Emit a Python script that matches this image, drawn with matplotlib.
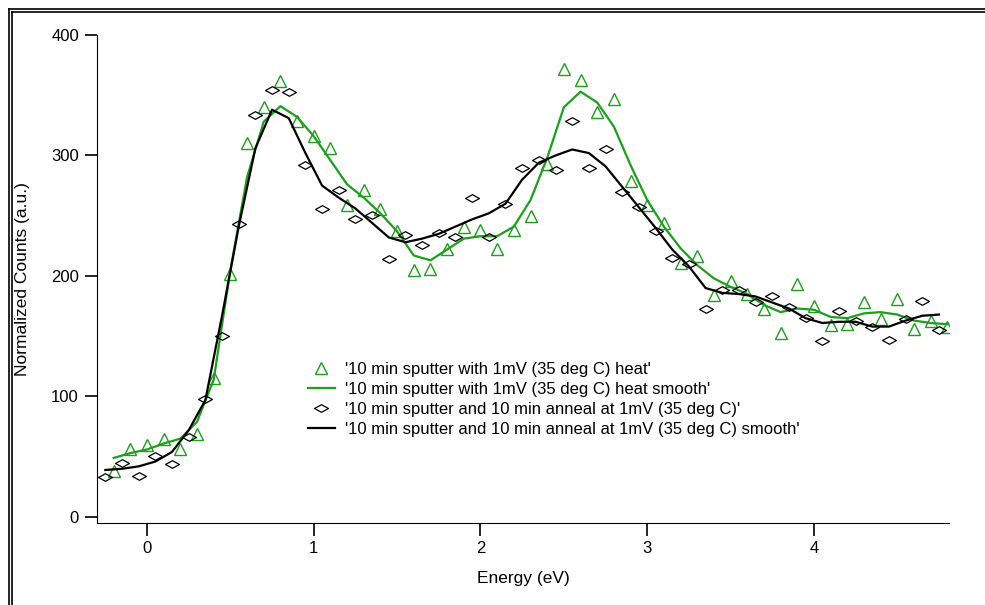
import numpy as np
import matplotlib.pyplot as plt
from matplotlib.lines import Line2D

plt.rcParams['font.family'] = ['Liberation Sans', 'DejaVu Sans']

# donnees
E_heat = [-0.2, -0.1, 0.0, 0.1, 0.2, 0.3, 0.4, 0.5, 0.6, 0.7, 0.8, 0.9, 1.0, 1.1, 1.2,
          1.3, 1.4, 1.5, 1.6, 1.7, 1.8, 1.9, 2.0, 2.1, 2.2, 2.3, 2.4, 2.5, 2.6, 2.7,
          2.8, 2.9, 3.0, 3.1, 3.2, 3.3, 3.4, 3.5, 3.6, 3.7, 3.8, 3.9, 4.0, 4.1, 4.2,
          4.3, 4.4, 4.5, 4.6, 4.7, 4.8]
I_heat = [38, 56, 60, 65, 56, 69, 115, 202, 310, 340, 362, 329, 316, 306, 259,
          271, 256, 237, 205, 206, 222, 241, 238, 222, 238, 250, 293, 372, 363, 336,
          347, 279, 259, 244, 211, 217, 184, 196, 185, 173, 153, 193, 175, 159, 160,
          178, 164, 181, 156, 163, 158]
I_heat_smooth = [49, 53, 56, 61, 65, 79, 114, 205, 282, 328, 341, 332, 316, 296, 276,
                 265, 252, 237, 217, 213, 222, 231, 233, 233, 241, 263, 298, 340, 353, 344,
                 324, 292, 263, 241, 223, 209, 198, 191, 185, 176, 170, 173, 172, 166, 165,
                 169, 170, 168, 163, 161, 160]

E_anneal = [-0.25, -0.15, -0.05, 0.05, 0.15, 0.25, 0.35, 0.45, 0.55, 0.65, 0.75, 0.85,
            0.95, 1.05, 1.15, 1.25, 1.35, 1.45, 1.55, 1.65, 1.75, 1.85, 1.95, 2.05,
            2.15, 2.25, 2.35, 2.45, 2.55, 2.65, 2.75, 2.85, 2.95, 3.05, 3.15, 3.25,
            3.35, 3.45, 3.55, 3.65, 3.75, 3.85, 3.95, 4.05, 4.15, 4.25, 4.35, 4.45,
            4.55, 4.65, 4.75]
I_anneal = [33, 45, 34, 51, 44, 66, 98, 150, 243, 334, 354, 353,
            292, 256, 271, 247, 251, 214, 234, 226, 236, 232, 265, 232,
            260, 290, 296, 288, 329, 290, 305, 270, 257, 237, 215, 210,
            173, 188, 188, 178, 183, 174, 165, 146, 171, 163, 158, 147,
            164, 179, 155]
I_anneal_smooth = [39, 40, 42, 46, 54, 72, 97, 167, 241, 306, 338, 331,
                   302, 275, 265, 256, 244, 232, 228, 231, 235, 241, 247, 252,
                   260, 280, 294, 300, 305, 302, 291, 274, 257, 240, 222, 208,
                   190, 186, 185, 183, 178, 173, 165, 161, 162, 162, 158, 158,
                   163, 167, 168]

labels = ["'10 min sputter with 1mV (35 deg C) heat'",
          "'10 min sputter with 1mV (35 deg C) heat smooth'",
          "'10 min sputter and 10 min anneal at 1mV (35 deg C)'",
          "'10 min sputter and 10 min anneal at 1mV (35 deg C) smooth'"]

vert = '#1e9e1e'
# losange aplati
losange = [(-1, 0), (0, 0.55), (1, 0), (0, -0.55), (-1, 0)]

fig = plt.figure(figsize=(9.85, 6.05), dpi=100)
ax = fig.add_axes([97/985, 1 - 523/605, (949 - 97)/985, (523 - 35)/605])

ax.plot(E_heat, I_heat, linestyle='none', marker='^', markersize=9,
        markerfacecolor='none', markeredgecolor=vert, markeredgewidth=1.0, label=labels[0])
ax.plot(E_heat, I_heat_smooth, color=vert, linewidth=1.6, label=labels[1])
ax.plot(E_anneal, I_anneal, linestyle='none', marker=losange, markersize=10,
        markerfacecolor='none', markeredgecolor='black', markeredgewidth=0.9, label=labels[2])
ax.plot(E_anneal, I_anneal_smooth, color='black', linewidth=1.6, label=labels[3])

ax.set_xlim(-0.30, 4.81)
ax.set_ylim(-5, 400)
ax.set_xticks([0, 1, 2, 3, 4])
ax.set_yticks([0, 100, 200, 300, 400])
ax.spines['top'].set_visible(False)
ax.spines['right'].set_visible(False)
ax.spines['left'].set_bounds(-5, 400)
ax.tick_params(direction='out', length=9, width=1.2, labelsize=12, pad=4)
ax.set_xlabel('Energy (eV)', fontsize=12.5, labelpad=11)
ax.set_ylabel('Normalized Counts (a.u.)', fontsize=12.5, labelpad=15)

ax.legend(loc='upper left', bbox_to_anchor=(0.24, 0.343), frameon=False, fontsize=12,
          numpoints=1, handlelength=1.6, handletextpad=0.6, labelspacing=0.3,
          borderaxespad=0)

# double cadre (gauche et haut)
for p in (8.5, 11.5):
    fig.add_artist(Line2D([p/985, p/985], [0, 1 - p/605], color='black', linewidth=1.2))
    fig.add_artist(Line2D([p/985, 1], [1 - p/605, 1 - p/605], color='black', linewidth=1.2))

fig.savefig('out.png', dpi=100)
